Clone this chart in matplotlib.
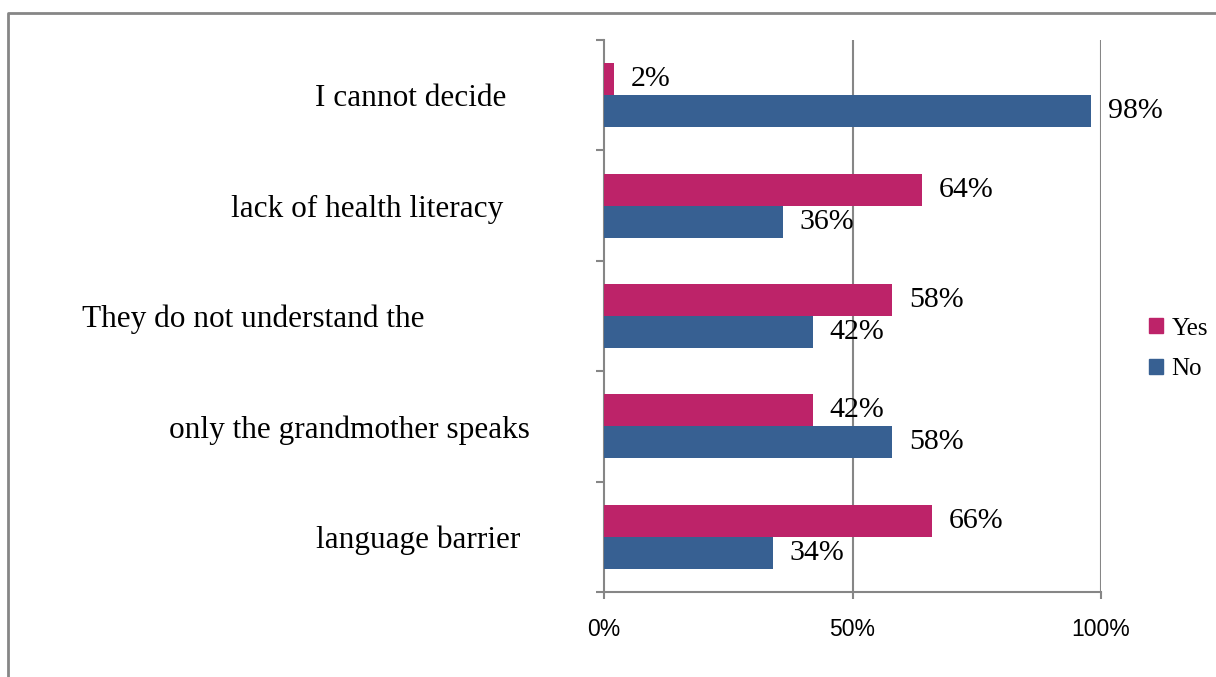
import matplotlib.pyplot as plt
from matplotlib.lines import Line2D
from matplotlib.patches import Patch
import matplotlib.transforms as mtransforms

categories = ["language barrier", "only the grandmother speaks",
              "They do not understand the", "lack of health literacy",
              "I cannot decide"]
yes_vals = [66, 42, 58, 64, 2]
no_vals = [34, 58, 42, 36, 98]
# horizontal centre of each category label, in figure pixels
label_centers = [418, 349, 253, 367, 411]

YES_COLOR = "#BD2369"
NO_COLOR = "#376092"
GRID = "#868686"

W, H = 1216, 677
fig = plt.figure(figsize=(W / 100, H / 100), dpi=100)
ax = fig.add_axes([604 / W, 1 - 592 / H, (1101 - 604) / W, (592 - 40) / H])

bh = 0.29
ypos = list(range(len(categories)))
ax.barh([y + bh / 2 for y in ypos], yes_vals, height=bh, color=YES_COLOR, zorder=3)
ax.barh([y - bh / 2 for y in ypos], no_vals, height=bh, color=NO_COLOR, zorder=3)

serif = "Liberation Serif"
for y, v in zip(ypos, yes_vals):
    ax.annotate(f"{v}%", (v, y + bh / 2), xytext=(12, 0), textcoords="offset points",
                ha="left", va="center", fontsize=21.5, family=serif)
for y, v in zip(ypos, no_vals):
    ax.annotate(f"{v}%", (v, y - bh / 2), xytext=(12, 0), textcoords="offset points",
                ha="left", va="center", fontsize=21.5, family=serif)

ax.set_xlim(0, 100)
ax.set_ylim(-0.5, len(categories) - 0.5)
ax.set_xticks([0, 50, 100])
ax.set_xticklabels(["0%", "50%", "100%"], family="Liberation Sans", fontsize=16.5)
ax.set_yticks([y - 0.5 for y in range(len(categories) + 1)])
ax.set_yticklabels([])
ax.tick_params(axis="x", length=5, width=1.5, color=GRID, pad=14)
ax.tick_params(axis="y", length=6, width=1.5, color=GRID)
for s in ["top", "right"]:
    ax.spines[s].set_visible(False)
for s in ["left", "bottom"]:
    ax.spines[s].set_color(GRID)
    ax.spines[s].set_linewidth(1.5)
for xv in [50, 100]:
    ax.axvline(xv, color=GRID, lw=1.5, zorder=1)

trans = mtransforms.blended_transform_factory(fig.transFigure, ax.transData)
for y, name, cx in zip(ypos, categories, label_centers):
    fig.text(cx / W, y, name, transform=trans, ha="center", va="center_baseline",
             fontsize=22.5, family=serif)

handles = [Patch(color=YES_COLOR, label="Yes"), Patch(color=NO_COLOR, label="No")]
fig.legend(handles=handles, loc="center left", bbox_to_anchor=(1149 / W, 1 - 349 / H),
           frameon=False, prop={"family": serif, "size": 18},
           borderpad=0, borderaxespad=0,
           handlelength=0.55, handleheight=0.55, handletextpad=0.35, labelspacing=0.75)

# outer chart frame (top and left edges)
fig.add_artist(Line2D([8 / W, 8 / W, 1.0], [0, 1 - 13 / H, 1 - 13 / H],
                      transform=fig.transFigure, color=GRID, lw=2))

fig.savefig("out.png", dpi=100)
